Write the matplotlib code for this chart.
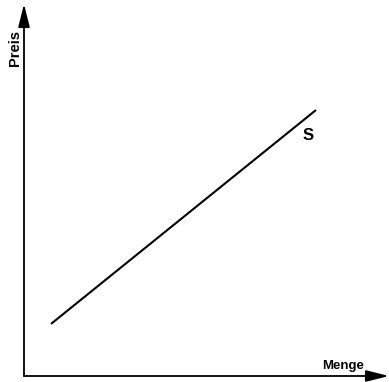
import matplotlib.pyplot as plt

# Angebotskurve S (Menge, Preis) in Achseneinheiten 0..100
menge = [7.4, 80.0]
preis = [14.0, 71.5]
kurve_label = "S"
x_label = "Menge"
y_label = "Preis"

plt.rcParams['font.family'] = ['Liberation Sans', 'DejaVu Sans']

fig = plt.figure(figsize=(3.89, 3.82), dpi=100)
ax = fig.add_axes([24 / 389, 6 / 382, 365 / 389, 372 / 382])
ax.set_xlim(0, 100)
ax.set_ylim(0, 100)
ax.axis('off')
ax.patch.set_alpha(0)

# Achsen mit Pfeilen
arrow = dict(arrowstyle='-|>,head_length=1.4,head_width=0.35', color='black', lw=1.3,
             shrinkA=0, shrinkB=0)
ax.annotate('', xy=(0, 100), xytext=(0, 0), arrowprops=arrow, annotation_clip=False)
ax.annotate('', xy=(100, 0), xytext=(0, 0), arrowprops=arrow, annotation_clip=False)

ax.plot(menge, preis, color='black', lw=1.5, solid_capstyle='butt')

ax.text(menge[-1] - 2.2, preis[-1] - 4.8, kurve_label, fontsize=12, fontweight='bold',
        ha='center', va='top')
ax.text(87.5, 1.2, x_label, fontsize=9.5, fontweight='bold', ha='center', va='bottom')
ax.text(-2.4, 88.2, y_label, fontsize=10.5, fontweight='bold', rotation=90,
        ha='center', va='center')

fig.savefig('out.png', dpi=100)
